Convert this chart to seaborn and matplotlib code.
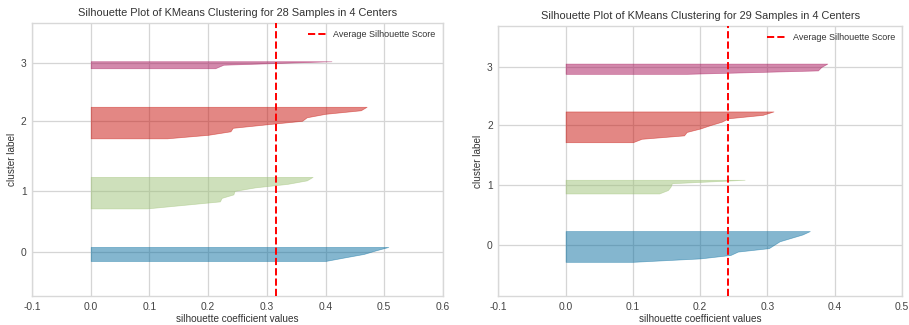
import numpy as np
import matplotlib
matplotlib.use("Agg")
import matplotlib.pyplot as plt
import seaborn as sns

# silhouette values per cluster (sorted)
left_cluster0 = [0.400, 0.432, 0.465, 0.485, 0.507]
left_cluster1 = [0.096, 0.158, 0.220, 0.223, 0.243, 0.245, 0.280, 0.335, 0.368, 0.378]
left_cluster2 = [0.130, 0.200, 0.238, 0.242, 0.300, 0.360, 0.368, 0.400, 0.460, 0.470]
left_cluster3 = [0.212, 0.226, 0.410]
left_avg = 0.315

right_cluster0 = [0.100, 0.200, 0.245, 0.256, 0.302, 0.310, 0.318, 0.335, 0.352, 0.363]
right_cluster1 = [0.139, 0.152, 0.156, 0.158, 0.266]
right_cluster2 = [0.100, 0.113, 0.176, 0.180, 0.200, 0.215, 0.232, 0.242, 0.293, 0.309]
right_cluster3 = [0.180, 0.375, 0.380, 0.389]
right_avg = 0.241

cluster_labels = ["0", "1", "2", "3"]
left_xticks = [-0.1, 0.0, 0.1, 0.2, 0.3, 0.4, 0.5, 0.6]
right_xticks = [-0.1, 0.0, 0.1, 0.2, 0.3, 0.4, 0.5]

sns.set_theme(style="whitegrid")
plt.rcParams['font.family'] = ['Liberation Sans', 'DejaVu Sans']
colors = sns.color_palette(["#0a6fa0", "#9fc278", "#c8110a", "#a8155a"])

fig = plt.figure(figsize=(9.09, 3.25), dpi=100)
ax_left = fig.add_axes([0.0352, 0.0892, 0.4521, 0.841])
ax_right = fig.add_axes([0.5482, 0.0892, 0.4441, 0.8308])


def silhouette(ax, clusters, avg, xticks):
    y_lower = 10
    tick_pos = []
    for vals, color in zip(clusters, colors):
        size = len(vals)
        y = np.arange(y_lower, y_lower + size)
        ax.fill_betweenx(y, 0, vals, facecolor=color, edgecolor=color,
                         alpha=0.5, linewidth=0.5, zorder=2)
        tick_pos.append(y_lower + 0.5 * size)
        y_lower += size + 10
    ax.axvline(avg, color="red", linestyle="--", linewidth=1.4,
               label="Average Silhouette Score", zorder=3)
    n = sum(len(v) for v in clusters)
    ax.set_ylim(0, n + (len(clusters) + 1) * 10)
    ax.set_xlim(xticks[0], xticks[-1])
    ax.set_xticks(xticks)
    ax.set_xticklabels([f"{t:.1f}" for t in xticks])
    ax.set_yticks(tick_pos)
    ax.set_yticklabels(cluster_labels)
    ax.set_title(f"Silhouette Plot of KMeans Clustering for {n} Samples in {len(clusters)} Centers",
                 fontsize=7.9, color="#333333", pad=5)
    ax.set_xlabel("silhouette coefficient values", fontsize=7.2, color="#333333", labelpad=2)
    ax.set_ylabel("cluster label", fontsize=7.2, color="#333333", labelpad=3)
    ax.tick_params(axis="both", labelsize=7.4, colors="#444444", length=0, pad=4)
    ax.set_facecolor("white")
    ax.grid(True, color="#d5d5d5", linewidth=0.9)
    ax.set_axisbelow(True)
    for s in ax.spines.values():
        s.set_color("#d8d8d8")
        s.set_linewidth(1.0)
    leg = ax.legend(loc="upper right", frameon=False, fontsize=6.5, handlelength=2.0,
                    borderaxespad=0.4)
    for t in leg.get_texts():
        t.set_color("#333333")


silhouette(ax_left, [left_cluster0, left_cluster1, left_cluster2, left_cluster3],
           left_avg, left_xticks)
silhouette(ax_right, [right_cluster0, right_cluster1, right_cluster2, right_cluster3],
           right_avg, right_xticks)

fig.savefig("out.png", dpi=100)
